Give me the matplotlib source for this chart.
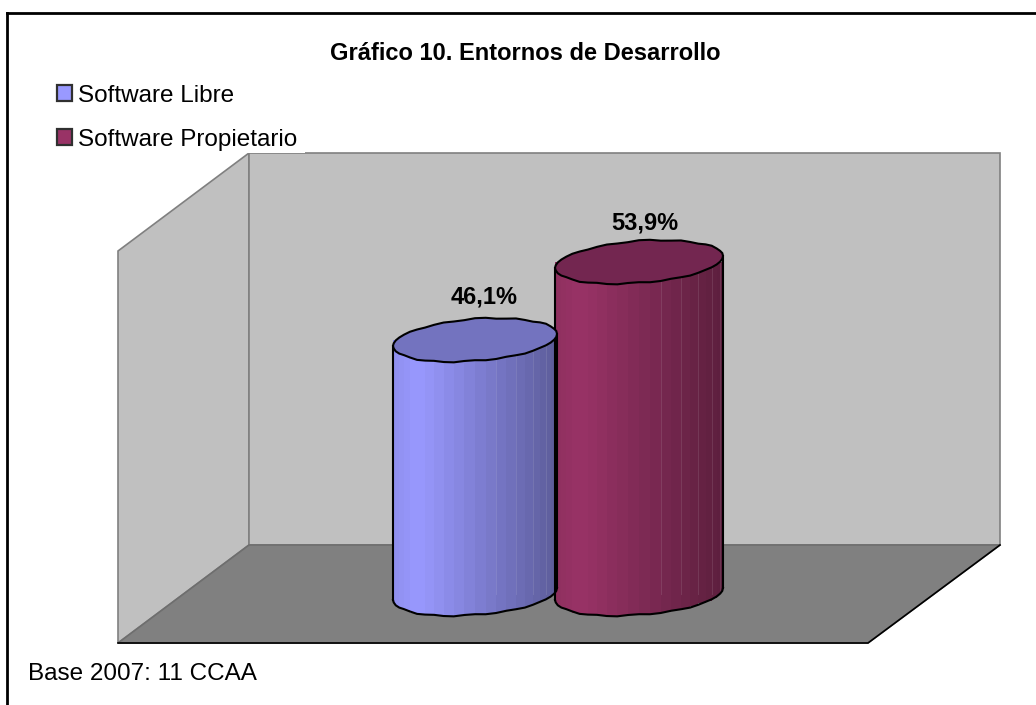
#!/usr/bin/env python
import numpy as np
import matplotlib
matplotlib.use('Agg')
from matplotlib import pyplot as plt
from matplotlib.patches import Patch, Polygon, Rectangle

plt.rcParams['font.family'] = ['Liberation Sans', 'DejaVu Sans']

title = 'Gráfico 10. Entornos de Desarrollo'
note = 'Base 2007: 11 CCAA'
categories = ['Software Libre', 'Software Propietario']
values = [46.1, 53.9]
labels = ['46,1%', '53,9%']

W, H = 1036, 705
# value axis: px per unit and value at the floor line of the cylinders
px_per_unit = 10.0
floor_value = 20.7
floor_px = 594.0
cat_px = 164.0
cat0_px = 475.0


def shade(base, frac):
    # facet colour across the cylinder, brightest a little left of centre
    if frac < 0.15:
        f = 0.93 + 0.07 * frac / 0.15
    else:
        f = 1.0 - 0.40 * (frac - 0.15) / 0.85
    return np.array(base) * f / 255.


def rim(cx, cy, a, b, t, theta):
    wob = 1 + 0.03 * np.sin(13 * theta + 0.7) + 0.015 * np.sin(5 * theta)
    x = cx + a * np.cos(theta)
    y = cy + (b * np.sin(theta) + t * np.cos(theta)) * wob
    return x, y


def cylinder(ax, i, value, half, base, cap):
    a = half / cat_px
    b = 21.0 / px_per_unit
    t = 6.0 / px_per_unit
    # facets equally spaced in angle, so they get narrow at both sides
    x_front, y_front = rim(i, floor_value, a, b, t, np.linspace(np.pi, 2 * np.pi, 25))
    mids = (x_front[:-1] + x_front[1:]) / 2
    widths = np.diff(x_front)
    fracs = (mids - (i - a)) / (2 * a)
    bottoms = (y_front[:-1] + y_front[1:]) / 2
    colors = [shade(base, f) for f in fracs]
    ax.bar(mids, value - bottoms, width=widths * 1.02, bottom=bottoms, color=colors,
           linewidth=0, antialiased=False, zorder=3)
    for x in x_front[14:23:2]:
        ax.plot([x, x], [floor_value, value], color='white', alpha=0.10, lw=0.8, zorder=3.1)
    # outline: sides and front arc
    ax.plot(x_front, y_front, color='black', lw=1.5, zorder=4)
    ax.plot([i - a, i - a], [y_front[0], value - t], color='black', lw=1.5, zorder=4)
    ax.plot([i + a, i + a], [y_front[-1], value + t], color='black', lw=1.5, zorder=4)
    cx, cy = rim(i, value, a, b, t, np.linspace(0, 2 * np.pi, 49))
    ax.add_patch(Polygon(np.column_stack([cx, cy]), closed=True, facecolor=cap,
                         edgecolor='black', lw=1.5, zorder=5))


fig = plt.figure(figsize=(W / 100, H / 100), dpi=100, facecolor='white')

# scenery, in pixels
bg = fig.add_axes([0, 0, 1, 1])
bg.set_xlim(0, W)
bg.set_ylim(H, 0)
bg.axis('off')
wall = '#c0c0c0'
edge = '#808080'
bg.add_patch(Polygon([(118, 251), (249, 153), (249, 545), (118, 643)], facecolor=wall, edgecolor=edge, lw=1.2))
bg.add_patch(Rectangle((249, 153), 751, 392, facecolor=wall, edgecolor=edge, lw=1.2))
bg.add_patch(Polygon([(118, 643), (249, 545), (1000, 545), (868, 643)], facecolor='#808080', edgecolor='#6e6e6e', lw=1.2))
bg.plot([118, 868, 1000], [643, 643, 545], color='black', lw=1.2)
bg.add_patch(Rectangle((50, 70), 255, 83, facecolor='white', edgecolor='none', zorder=2))
bg.plot([7, 7], [H, 13], color='black', lw=2, solid_capstyle='projecting')
bg.plot([7, W], [13, 13], color='black', lw=2, solid_capstyle='projecting')

bg.text(525.5, 54, title, ha='center', va='center', fontsize=17.0, fontweight='bold')
bg.text(28, 674, note, ha='left', va='center', fontsize=17.5)

handles = [Patch(facecolor='#9999ff', edgecolor='#303030', lw=1.6),
           Patch(facecolor='#993366', edgecolor='#303030', lw=1.6)]
leg = bg.legend(handles, categories, loc='upper left', bbox_to_anchor=(57 / W, 1 - 84.5 / H),
                frameon=False, fontsize=17.5, borderaxespad=0, borderpad=0,
                handlelength=0.62, handleheight=0.62, handletextpad=0.25, labelspacing=0.92)
leg.set_zorder(6)

# cylinders, on their own category and value scales
ax = fig.add_axes([0, 0, 1, 1])
ax.patch.set_alpha(0)
ax.axis('off')
ax.set_xlim(-cat0_px / cat_px, (W - cat0_px) / cat_px)
ax.set_ylim(floor_value - (H - floor_px) / px_per_unit, floor_value + floor_px / px_per_unit)

cylinder(ax, 0, values[0], 82.0, (153, 153, 255), '#7373bf')
cylinder(ax, 1, values[1], 84.0, (153, 51, 102), '#732650')

label_offsets = [(6.5, 22.5), (4, 20)]
for i, (v, s) in enumerate(zip(values, labels)):
    ax.annotate(s, (i, v), xytext=label_offsets[i], textcoords='offset points', ha='center', va='bottom',
                fontsize=17.0, fontweight='bold')

fig.savefig('out.png', dpi=100, facecolor='white')
